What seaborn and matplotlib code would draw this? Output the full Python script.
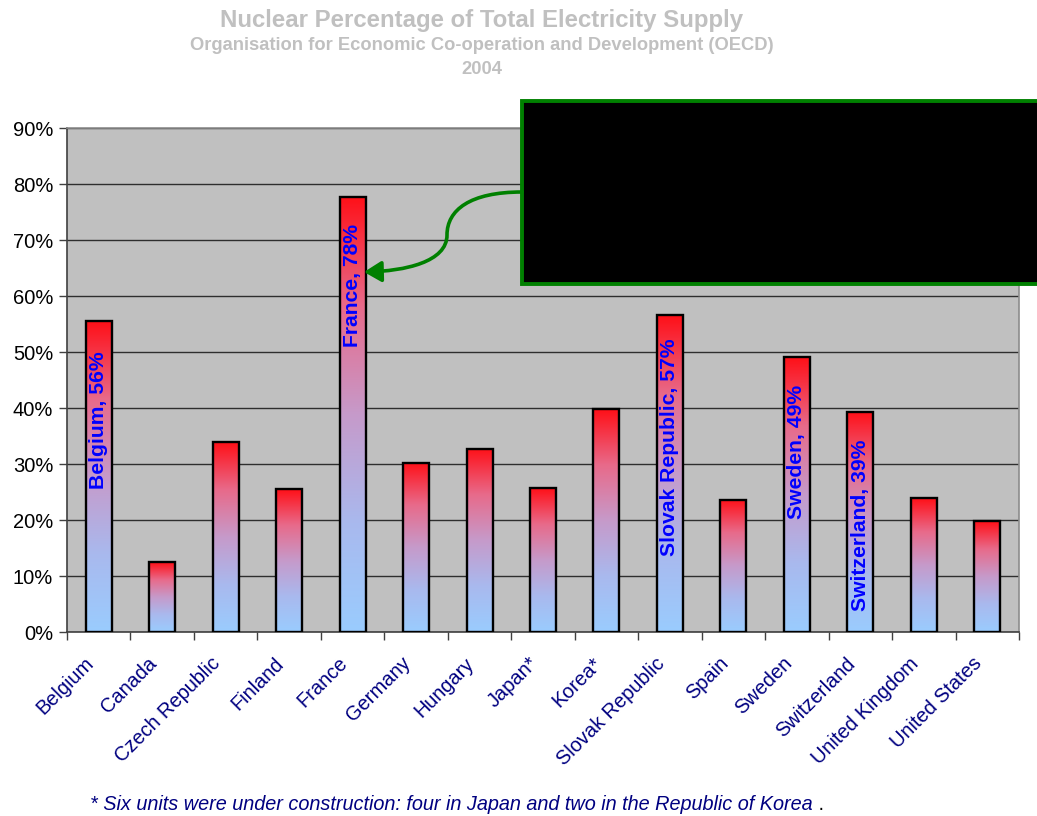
import numpy as np
import pandas as pd
import seaborn as sns
import matplotlib
matplotlib.use("Agg")
import matplotlib.pyplot as plt
import matplotlib.transforms as mtransforms
from matplotlib.colors import LinearSegmentedColormap
from matplotlib.patches import Rectangle, FancyArrowPatch
from matplotlib.path import Path
from matplotlib.ticker import FixedLocator, PercentFormatter

# Nuclear share of total electricity supply, OECD members, 2004 (%)
countries = ["Belgium", "Canada", "Czech Republic", "Finland", "France",
             "Germany", "Hungary", "Japan*", "Korea*", "Slovak Republic",
             "Spain", "Sweden", "Switzerland", "United Kingdom", "United States"]
nuclear_share = [55.5, 12.5, 33.9, 25.5, 77.7, 30.2, 32.7, 25.7, 39.8,
                 56.6, 23.6, 49.1, 39.3, 23.9, 19.8]

# Countries called out with an in-bar label, and the height of the label centre
callouts = ["Belgium", "France", "Slovak Republic", "Sweden", "Switzerland"]
callout_centre = [37.9, 61.8, 33.0, 32.1, 19.1]

title = "Nuclear Percentage of Total Electricity Supply"
subtitle = "Organisation for Economic Co-operation and Development (OECD)"
year_label = "2004"
footnote = "* Six units were under construction: four in Japan and two in the Republic of Korea"

df = pd.DataFrame({"country": countries, "share": nuclear_share})

sns.set_theme(style="white")
plt.rcParams["font.family"] = ["Liberation Sans", "DejaVu Sans"]

W, H = 1037, 816
fig = plt.figure(figsize=(W / 100, H / 100), dpi=100)
ax = fig.add_axes([67 / W, 1 - 632 / H, (1019 - 67) / W, (632 - 128) / H])
ax.set_facecolor("#C0C0C0")

sns.barplot(data=df, x="country", y="share", ax=ax, width=0.41,
            color="white", edgecolor="black", linewidth=1.7, zorder=3)

# Red-to-light-blue vertical gradient inside every bar
grad_cmap = LinearSegmentedColormap.from_list(
    "nuclear", [(0.0, "#9ACCFE"), (0.25, "#A9B9EE"), (0.5, "#C69ACA"),
                (0.75, "#E86A8A"), (1.0, "#FF1018")])
gradient = np.linspace(0, 1, 256).reshape(-1, 1)
for bar in ax.patches:
    x0, w, h = bar.get_x(), bar.get_width(), bar.get_height()
    img = ax.imshow(gradient, cmap=grad_cmap, origin="lower", aspect="auto",
                    extent=[x0, x0 + w, 0, h], zorder=2.5, interpolation="bilinear")
    img.set_clip_path(bar)
    bar.set_facecolor("none")

ax.set_xlim(-0.5, len(countries) - 0.5)
ax.set_ylim(0, 90)
ax.yaxis.set_major_locator(FixedLocator(np.arange(0, 91, 10)))
ax.yaxis.set_major_formatter(PercentFormatter(decimals=0))
ax.grid(axis="y", color="#2e2e2e", linewidth=1.0, zorder=1)
ax.set_axisbelow(True)
ax.set_xlabel("")
ax.set_ylabel("")

for side in ["top", "right"]:
    ax.spines[side].set_visible(True)
    ax.spines[side].set_color("#8c8c8c")
    ax.spines[side].set_linewidth(1.2)
for side in ["left", "bottom"]:
    ax.spines[side].set_color("#404040")
    ax.spines[side].set_linewidth(1.2)

ax.tick_params(axis="y", direction="out", length=6, width=1, color="#404040",
               labelsize=14.5, labelcolor="black", pad=4, left=True)
ax.set_xticks(range(len(countries)))
ax.set_xticks(np.arange(-0.5, len(countries), 1.0), minor=True)
ax.tick_params(axis="x", which="major", length=0, pad=14)
ax.tick_params(axis="x", which="minor", direction="out", length=6, width=1,
               color="#404040", bottom=True)
ax.set_xticklabels(countries, rotation=45, ha="right", va="center",
                   rotation_mode="anchor", fontsize=14.4, color="#000080")
shift = mtransforms.ScaledTranslation(-8 / 100, -9 / 100, fig.dpi_scale_trans)
for lbl in ax.get_xticklabels():
    lbl.set_transform(lbl.get_transform() + shift)

# In-bar callout labels
for name, yc in zip(callouts, callout_centre):
    i = countries.index(name)
    ax.text(i, yc, f"{name}, {nuclear_share[i]:.0f}%", rotation=90,
            ha="center", va="center", color="#0000FF", fontsize=15.2,
            fontweight="bold", zorder=5)

# Titles
fig.text(482 / W, 1 - 20 / H, title, ha="center", va="center",
         fontsize=17.3, fontweight="bold", color="#C0C0C0")
fig.text(482 / W, 1 - 46 / H, subtitle, ha="center", va="center",
         fontsize=13.2, fontweight="bold", color="#C0C0C0")
fig.text(482 / W, 1 - 70 / H, year_label, ha="center", va="center",
         fontsize=13.2, fontweight="bold", color="#C0C0C0")

# Footnote
fn = fig.text(90 / W, 1 - 805 / H, footnote, ha="left", va="center",
              fontsize=14.3, style="italic", color="#000080")
fig.canvas.draw()
ax.annotate(" .", xy=(1, 0.5), xycoords=fn, ha="left", va="center",
            fontsize=14.3, color="black", annotation_clip=False)

# Black panel with green frame
panel = Rectangle((522 / W, 1 - 284 / H), (W + 10 - 522) / W, (284 - 101) / H,
                  transform=fig.transFigure, facecolor="black",
                  edgecolor="#008000", linewidth=2.8, zorder=10)
fig.add_artist(panel)

# Curved green arrow from the panel to the France bar
def px(x, y):
    return (x / W, 1 - y / H)

verts = [px(522, 192), px(470, 192), px(447, 210), px(447, 235),
         px(447, 262), px(405, 271), px(364, 272)]
codes = [Path.MOVETO, Path.CURVE4, Path.CURVE4, Path.CURVE4,
         Path.CURVE4, Path.CURVE4, Path.CURVE4]
arrow = FancyArrowPatch(path=Path(verts, codes), transform=fig.transFigure,
                        arrowstyle="-|>,head_length=0.75,head_width=0.45",
                        mutation_scale=14, color="#008000", linewidth=2.6,
                        zorder=11)
fig.add_artist(arrow)

fig.savefig("out.png", dpi=100)
